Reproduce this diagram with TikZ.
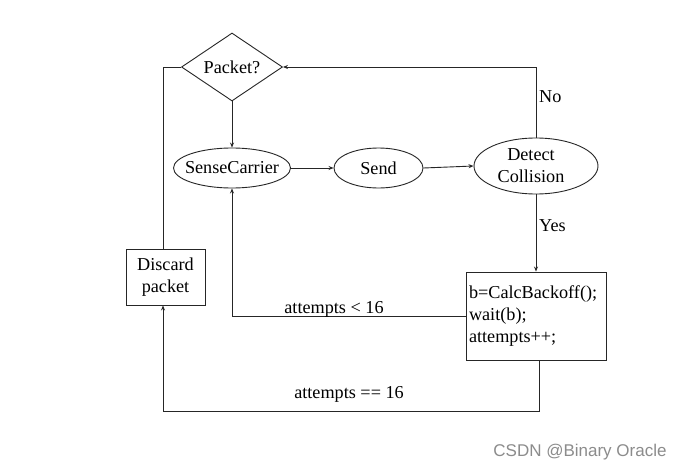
\documentclass[tikz,border=0pt]{standalone}
\usepackage{fontspec}
\setmainfont{Liberation Serif}
\newfontfamily\mainserif{Liberation Serif}
\newfontfamily\wmfont{Liberation Sans}
\usetikzlibrary{shapes.geometric,arrows.meta}
\begin{document}
\begin{tikzpicture}[x=1pt,y=-1pt,
  every node/.style={font=\mainserif\fontsize{18.2}{22}\selectfont, inner sep=0pt},
  line/.style={line width=0.9pt, draw=black!85},
  arr/.style={line, -{Stealth[length=5pt,width=4pt]}},
  oval/.style={draw=black!85, ellipse, line width=0.9pt, minimum height=40pt},
  box/.style={draw=black!85, rectangle, line width=0.9pt},
  lbl/.style={inner sep=0pt}
  ]
\useasboundingbox[fill=white] (0,0) rectangle (686,471);
% nodes
\node[draw=black!85, diamond, line width=0.9pt, minimum width=101pt, minimum height=68pt, aspect=1.5,
      label=center:{Packet?}] (pk) at (232,67) {};
\node[oval, minimum width=117pt, label=center:{SenseCarrier}] (sc) at (232,168) {};
\node[oval, minimum width=89pt, label=center:{Send}] (send) at (378.5,168) {};
\node[oval, minimum width=124pt, minimum height=56pt,
      label={[align=center, xshift=-5pt]center:{Detect\\Collision}}] (dc) at (536,166) {};
\node[box, minimum width=79pt, minimum height=56pt, align=center] (dis) at (165.5,277) {Discard\\packet};
\node[box, minimum width=140pt, minimum height=88pt, align=left, text width=134pt, inner xsep=3pt] (bo) at (536,316)
      {b=CalcBackoff();\\wait(b);\\attempts++;};
% helper coordinates
\coordinate (lx) at (163,0);
\coordinate (b1) at (539,411);
% connectors
\draw[line] (pk.west) -- (pk.west -| lx) -- (lx |- dis.north);
\draw[arr] (pk.south) -- (sc.north);
\draw[arr] (sc.east) -- (send.west);
\draw[arr] (send.east) -- (dc.west);
\draw[arr] (dc.north) -- (dc.north |- pk.east) -- (pk.east);
\draw[arr] (dc.south) -- (dc.south |- bo.north);
\draw[arr] (bo.west) -| (sc.south);
\draw[arr] (b1 |- bo.south) -- (b1) -| (lx |- dis.south);
% labels
\node[lbl, anchor=west] (no) at (539,97) {No};
\node[lbl, anchor=west] (yes) at (539,226) {Yes};
\node[lbl] (l16) at (334,309) {attempts < 16};
\node[lbl] (e16) at (349,394) {attempts == 16};
\node[lbl, font=\wmfont\fontsize{17}{20}\selectfont, text=black!45] (wm) at (580,452) {CSDN @Binary Oracle};
\end{tikzpicture}
\end{document}
